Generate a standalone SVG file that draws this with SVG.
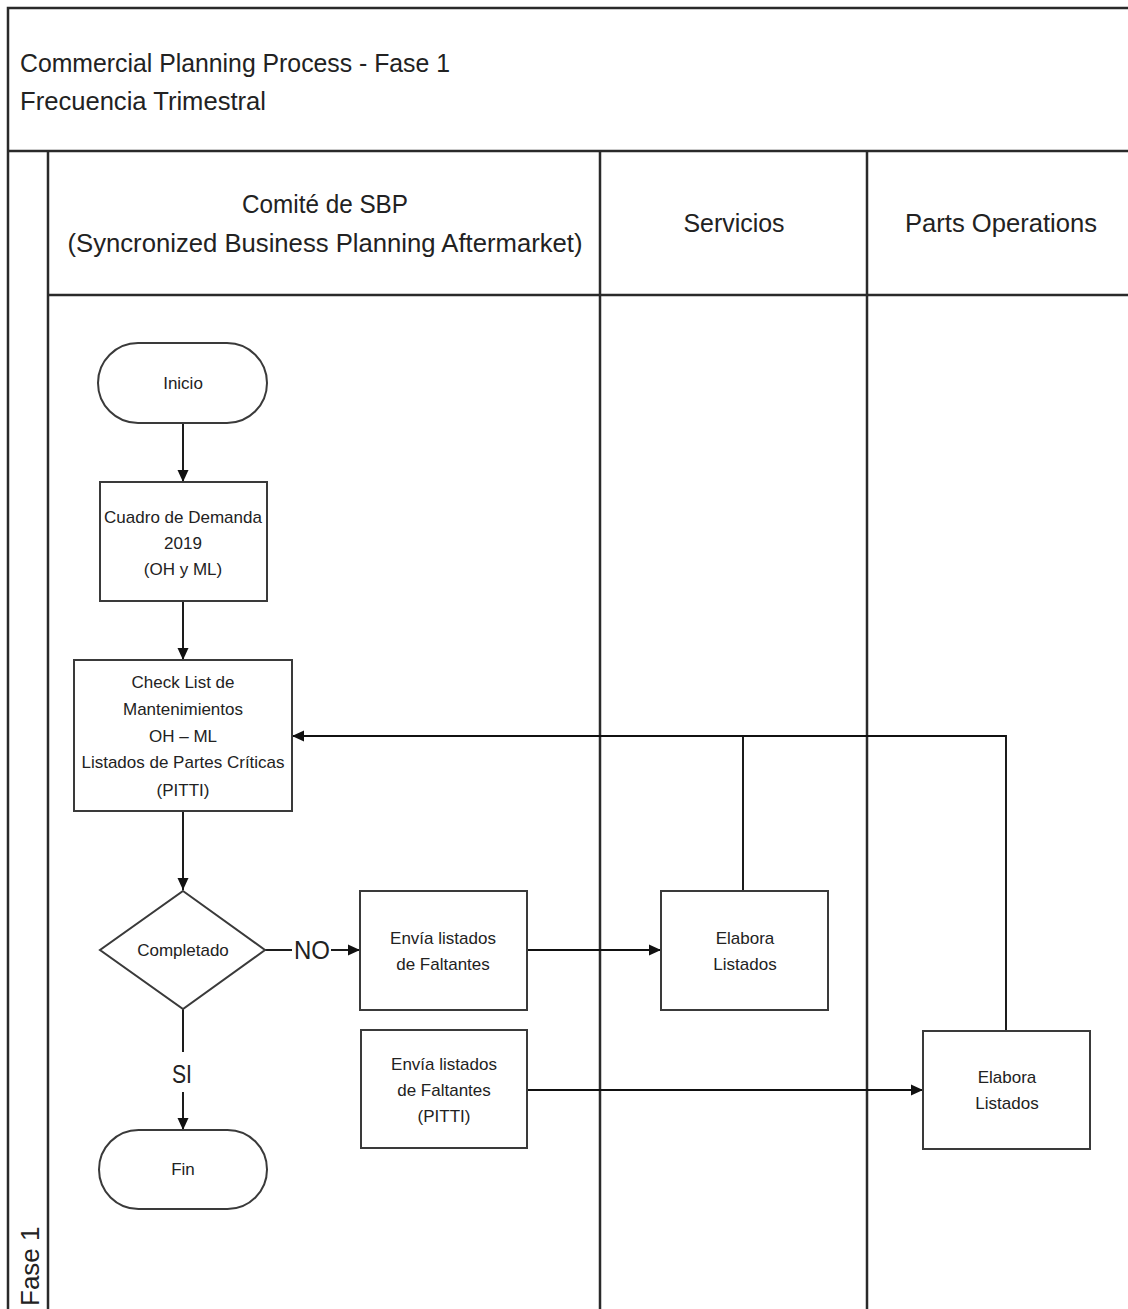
<svg xmlns="http://www.w3.org/2000/svg" width="1128" height="1309" viewBox="0 0 1128 1309">
<defs>
<marker id="arr" viewBox="0 0 12 12" refX="12" refY="6" markerWidth="12" markerHeight="12" markerUnits="userSpaceOnUse" orient="auto">
<path d="M0,0.5 L12,6 L0,11.5 z" fill="#111"/>
</marker>
</defs>
<style>
.frame{fill:none;stroke:#2a2a2a;stroke-width:2.5}
.node{fill:#fff;stroke:#3a3a3a;stroke-width:2}
.conn{fill:none;stroke:#111;stroke-width:1.9}
.t{font-family:"Liberation Sans",Arial,sans-serif;fill:#222;text-anchor:middle}
.nt{font-size:17px}
.hd{font-size:26px}
.tt{font-family:"Liberation Sans",Arial,sans-serif;fill:#222;font-size:26px}
</style>
<rect width="1128" height="1309" fill="#fff"/>
<g id="frame">
<rect class="frame" x="8" y="8" width="1140" height="1320"/>
<line class="frame" x1="8" y1="151" x2="1140" y2="151"/>
<line class="frame" x1="48" y1="151" x2="48" y2="1320"/>
<line class="frame" x1="48" y1="295" x2="1140" y2="295"/>
<line class="frame" x1="600" y1="151" x2="600" y2="1320"/>
<line class="frame" x1="867" y1="151" x2="867" y2="1320"/>
</g>
<g id="title">
<text class="tt" x="20" y="72" textLength="430" lengthAdjust="spacingAndGlyphs">Commercial Planning Process - Fase 1</text>
<text class="tt" x="20" y="110" textLength="246" lengthAdjust="spacingAndGlyphs">Frecuencia Trimestral</text>
</g>
<g id="lane-fase">
<text class="tt" transform="translate(39,1306) rotate(-90)" font-size="23">Fase 1</text>
</g>
<g id="lane-headers">
<text class="t hd" x="325" y="213" textLength="166" lengthAdjust="spacingAndGlyphs">Comité de SBP</text>
<text class="t hd" x="325" y="252" textLength="515" lengthAdjust="spacingAndGlyphs">(Syncronized Business Planning Aftermarket)</text>
<text class="t hd" x="734" y="232" textLength="101" lengthAdjust="spacingAndGlyphs">Servicios</text>
<text class="t hd" x="1001" y="232" textLength="192" lengthAdjust="spacingAndGlyphs">Parts Operations</text>
</g>
<g id="connectors">
<path class="conn" d="M183,423 V482" marker-end="url(#arr)"/>
<path class="conn" d="M183,601 V660" marker-end="url(#arr)"/>
<path class="conn" d="M183,811 V890" marker-end="url(#arr)"/>
<path class="conn" d="M265,950 H292"/>
<path class="conn" d="M331,950 H360" marker-end="url(#arr)"/>
<text class="t" x="312" y="959" font-size="25" textLength="36" lengthAdjust="spacingAndGlyphs">NO</text>
<path class="conn" d="M527,950 H661" marker-end="url(#arr)"/>
<path class="conn" d="M743,891 V736 H292" marker-end="url(#arr)"/>
<path class="conn" d="M1006,1031 V736 H743"/>
<path class="conn" d="M527,1090 H923" marker-end="url(#arr)"/>
<path class="conn" d="M183,1009 V1052"/>
<text class="t" x="182" y="1083" font-size="26" textLength="20" lengthAdjust="spacingAndGlyphs">SI</text>
<path class="conn" d="M183,1092 V1130" marker-end="url(#arr)"/>
</g>
<g id="inicio">
<rect class="node" x="98" y="343" width="169" height="80" rx="40" ry="40"/>
<text class="t nt" x="183" y="389">Inicio</text>
</g>
<g id="cuadro">
<rect class="node" x="100" y="482" width="167" height="119"/>
<text class="t nt" x="183" y="523">Cuadro de Demanda</text>
<text class="t nt" x="183" y="549">2019</text>
<text class="t nt" x="183" y="575">(OH y ML)</text>
</g>
<g id="checklist">
<rect class="node" x="74" y="660" width="218" height="151"/>
<text class="t nt" x="183" y="688">Check List de</text>
<text class="t nt" x="183" y="715">Mantenimientos</text>
<text class="t nt" x="183" y="742">OH – ML</text>
<text class="t nt" x="183" y="768">Listados de Partes Críticas</text>
<text class="t nt" x="183" y="796">(PITTI)</text>
</g>
<g id="completado">
<path class="node" d="M183,891 L265,950 L183,1009 L100,950 z"/>
<text class="t nt" x="183" y="956">Completado</text>
</g>
<g id="envia1">
<rect class="node" x="360" y="891" width="167" height="119"/>
<text class="t nt" x="443" y="944">Envía listados</text>
<text class="t nt" x="443" y="970">de Faltantes</text>
</g>
<g id="elabora-servicios">
<rect class="node" x="661" y="891" width="167" height="119"/>
<text class="t nt" x="745" y="944">Elabora</text>
<text class="t nt" x="745" y="970">Listados</text>
</g>
<g id="envia2">
<rect class="node" x="361" y="1030" width="166" height="118"/>
<text class="t nt" x="444" y="1070">Envía listados</text>
<text class="t nt" x="444" y="1096">de Faltantes</text>
<text class="t nt" x="444" y="1122">(PITTI)</text>
</g>
<g id="elabora-parts">
<rect class="node" x="923" y="1031" width="167" height="118"/>
<text class="t nt" x="1007" y="1083">Elabora</text>
<text class="t nt" x="1007" y="1109">Listados</text>
</g>
<g id="fin">
<rect class="node" x="99" y="1130" width="168" height="79" rx="39.5" ry="39.5"/>
<text class="t nt" x="183" y="1175">Fin</text>
</g>
</svg>
